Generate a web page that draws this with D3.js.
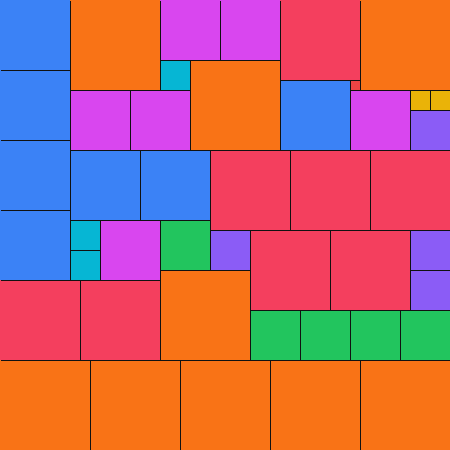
<!DOCTYPE html>
<html>
<head>
<meta charset="utf-8">
<script src="https://cdn.jsdelivr.net/npm/d3@7"></script>
<style>
  body { margin: 0; background: #fff; }
  svg { display: block; }
</style>
</head>
<body>
<svg id="Vis1" width="450" height="450"></svg>
<script>
// square sizes in the order they are laid down (partridge tiling, side 45)
let order = [7, 9, 6, 6, 8, 9, 3, 9, 7, 7, 1, 6, 6, 6, 2, 2, 4, 7, 7, 7, 8, 8, 8,
  7, 3, 6, 5, 4, 8, 8, 4, 3, 9, 4, 8, 8, 5, 5, 5, 5, 9, 9, 9, 9, 9];

let sizes = [1, 2, 3, 4, 5, 6, 7, 8, 9];
let colors = ["#ef4444", "#eab308", "#06b6d4", "#8b5cf6", "#22c55e",
  "#d946ef", "#3b82f6", "#f43f5e", "#f97316"];

const side = 45;

/*
 * Skyline placement: each square goes to the lowest, leftmost free spot
 */
function pack(list) {
  let sky = d3.range(side).map(() => 0);
  let out = [];
  list.forEach(function(s) {
    let low = d3.min(sky);
    let x = sky.indexOf(low);
    for (let i = x; i < x + s; i++) sky[i] = low + s;
    out.push({ size: s, x: x, y: low });
  });
  return out;
}

let drawTiling = function() {
  let svg = d3.select("body").select("svg#Vis1");

  let scale = d3.scaleLinear()
    .domain([0, side])
    .range([0, 450]);

  let color = d3.scaleOrdinal()
    .domain(sizes)
    .range(colors);

  let squares = pack(order);

  // outer edge has no border, so clip the outlines off it
  svg.append("clipPath").attr("id", "inner")
    .append("rect")
    .attr("x", 1).attr("y", 1)
    .attr("width", 449).attr("height", 449);

  svg.append("g").attr("id", "fills")
    .selectAll("rect")
    .data(squares)
    .enter()
    .append("rect")
    .attr("x", d => scale(d.x))
    .attr("y", d => scale(d.y))
    .attr("width", d => scale(d.size))
    .attr("height", d => scale(d.size))
    .attr("fill", d => color(d.size));

  svg.append("g").attr("id", "outlines")
    .attr("clip-path", "url(#inner)")
    .selectAll("rect")
    .data(squares)
    .enter()
    .append("rect")
    .attr("x", d => scale(d.x) + 0.5)
    .attr("y", d => scale(d.y) + 0.5)
    .attr("width", d => scale(d.size))
    .attr("height", d => scale(d.size))
    .attr("fill", "none")
    .attr("stroke", "#111")
    .attr("stroke-width", 1);
};

drawTiling();
</script>
</body>
</html>
